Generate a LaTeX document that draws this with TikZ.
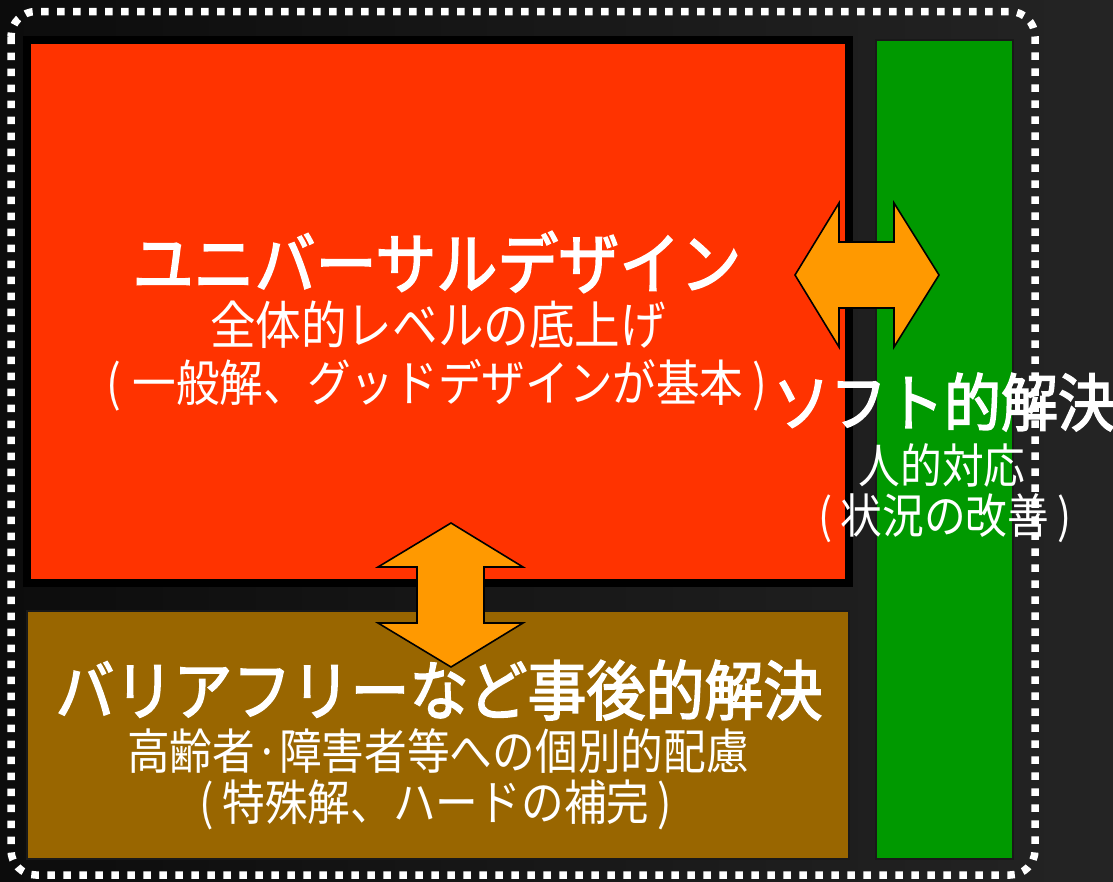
\documentclass[tikz,border=0pt]{standalone}
\usepackage{fontspec}
\newfontfamily\jpfont{Noto Sans CJK JP}
\newfontfamily\jptitlefont[FakeBold=2.5]{Noto Sans CJK JP}
\definecolor{bgleft}{HTML}{0C0C0C}
\definecolor{bgright}{HTML}{242424}
\definecolor{udred}{HTML}{FF3300}
\definecolor{bfbrown}{HTML}{996600}
\definecolor{sfgreen}{HTML}{009900}
\definecolor{arroworange}{HTML}{FF9900}
\newcommand{\tallbox}[1]{\scalebox{0.97}[1.1]{#1}}
\newcommand{\talltitle}[1]{\scalebox{1.0}[1.1]{#1}}
\tikzset{
  dotborder/.style={draw=white, line width=7.5pt, dash pattern=on 7.5pt off 8.5pt, rounded corners=25pt},
  redbox/.style={fill=udred, draw=black, line width=8pt},
  thinbox/.style={draw=black!90, line width=1.6pt},
  arrowshape/.style={fill=arroworange, draw=black, line width=1.6pt, line join=miter},
  titletext/.style={text=white, inner sep=0pt, font=\jptitlefont\fontsize{#1}{#1}\selectfont},
  subtext/.style={text=white, inner sep=0pt, font=\jpfont\fontsize{#1}{#1}\selectfont},
}
\begin{document}
\begin{tikzpicture}[x=1pt, y=-1pt]
\useasboundingbox (0,0) rectangle (1113,881);
\shade[left color=bgleft, right color=bgright] (0,0) rectangle (1113,881);
% boxes
\path[redbox] (27,40) rectangle (849,583);
\coordinate (ud) at (438,311);
\path[thinbox, fill=bfbrown] (27,611) rectangle (849,859);
\coordinate (bf) at (438,735);
\path[thinbox, fill=sfgreen] (876,40) rectangle (1013,859);
\coordinate (sf) at (944,450);
% dotted frame
\path[dotborder] (11,11.5) rectangle (1035,875);
% arrows
\path[arrowshape] (795,275) -- (839,203) -- (839,242) -- (894,242) -- (894,203) -- (939,275)
  -- (894,347) -- (894,308) -- (839,308) -- (839,347) -- cycle;
\path[arrowshape] (451,523) -- (523,567) -- (484,567) -- (484,623) -- (523,623) -- (451,667)
  -- (378,623) -- (417,623) -- (417,567) -- (378,567) -- cycle;
% texts
\node[titletext=61] (udtitle) at (437,262) {\talltitle{ユニバーサルデザイン}};
\node[subtext=47] (udsub) at (438,325) {\tallbox{全体的レベルの底上げ}};
\node[subtext=45] (udnote) at (437,385) {\tallbox{(\hspace{0.25em}一般解、グッドデザインが基本\hspace{0.2em})}};
\node[titletext=57] (sftitle) at (944,402) {\talltitle{ソフト的解決}};
\node[subtext=43] (sfsub) at (942,465) {\tallbox{人的対応}};
\node[subtext=43] (sfnote) at (945,518) {\tallbox{(\hspace{0.2em}状況の改善\hspace{0.2em})}};
\node[titletext=59] (bftitle) at (439,690) {\talltitle{バリアフリーなど事後的解決}};
\node[subtext=44] (bfsub) at (438,751) {\tallbox{高齢者·障害者等への個別的配慮}};
\node[subtext=44] (bfnote) at (436,805) {\tallbox{(\hspace{0.2em}特殊解、ハードの補完\hspace{0.2em})}};
\end{tikzpicture}
\end{document}
